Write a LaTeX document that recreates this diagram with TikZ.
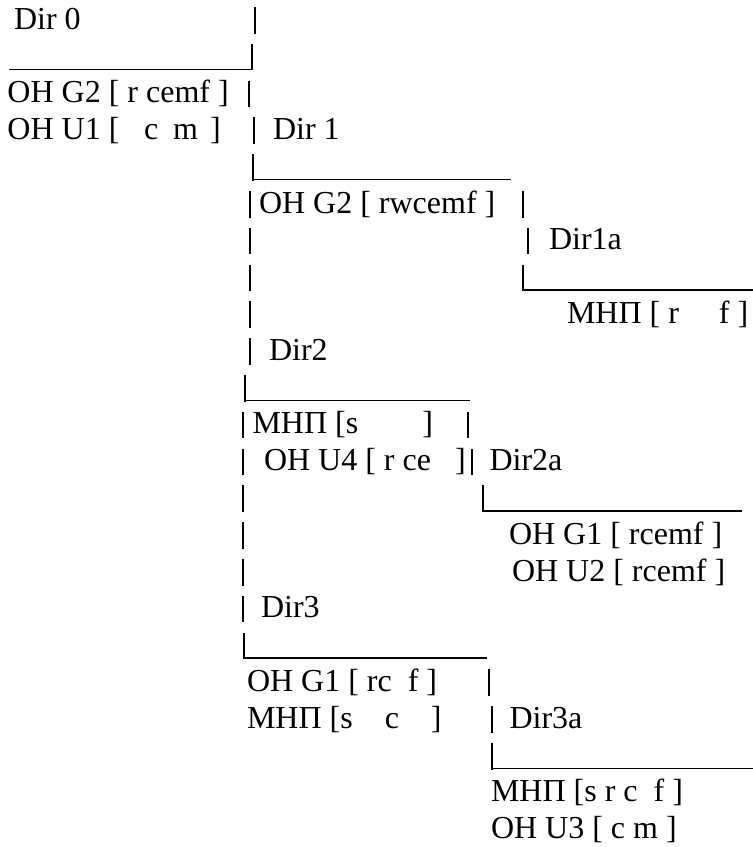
\documentclass[tikz,border=0pt]{standalone}
\usepackage{fontspec}
\setmainfont{Liberation Serif}
\tikzset{
  lbl/.style={anchor=base west, inner sep=0pt, outer sep=0pt, font=\fontsize{32}{36.8}\selectfont},
  vbar/.style={line width=1.2pt, black},
  uline/.style={line width=1.4pt, black},
}
\newcommand\vb[2]{\draw[vbar] ({#1},{#2-22}) -- ({#1},{#2+4.5});}
\newcommand\ul[3]{\draw[uline] ({#1},{#3+3.5}) -- ({#2},{#3+3.5});}
\begin{document}
\begin{tikzpicture}[x=1pt,y=-1pt]
\useasboundingbox (0,0) rectangle (753,847);
% text
\node[lbl] (t0) at (14,29) {Dir 0};
\node[lbl] (t2) at (7.5,102.6) {OH G2 [ r cemf ]};
\node[lbl] (t3) at (7.5,139.4) {OH U1 [};
\node[lbl] (t3c) at (144,139.4) {c};
\node[lbl] (t3m) at (173,139.4) {m};
\node[lbl] (t3e) at (210,139.4) {]};
\node[lbl] (d1) at (273,139.4) {Dir 1};
\node[lbl] (t5) at (259,213) {OH G2 [ rwcemf ]};
\node[lbl] (d1a) at (549,249.8) {Dir1a};
\node[lbl] (t8) at (567,323.4) {МНП [ r\ \ \ \ \ f ]};
\node[lbl] (d2) at (269,360.2) {Dir2};
\node[lbl] (t11) at (252.5,433.8) {МНП [s\ \ \ \ \ \ \ \ ]};
\node[lbl] (t12) at (264,470.6) {OH U4 [ r ce\ \ \ ]};
\node[lbl] (d2a) at (489.5,470.6) {Dir2a};
\node[lbl] (t14) at (509,544.2) {OH G1 [ rcemf ]};
\node[lbl] (t15) at (512,581) {OH U2 [ rcemf ]};
\node[lbl] (d3) at (261,617.8) {Dir3};
\node[lbl] (t18) at (247,691.4) {OH G1 [ rc\ \ f\ ]};
\node[lbl] (t19) at (247,728.2) {МНП [s\ \ \ \ c\ \ \ \ ]};
\node[lbl] (d3a) at (509.5,728.2) {Dir3a};
\node[lbl] (t21) at (491,801.8) {МНП [s r c\ \ f ]};
\node[lbl] (t22) at (491,838.6) {OH U3 [ c m ]};
% vertical bars
\vb{255}{29}
\vb{252}{65.8}
\vb{249}{102.6}
\vb{254}{139.4}
\vb{253}{176.2}
\vb{250}{213} \vb{523}{213}
\vb{250}{249.8} \vb{528}{249.8}
\vb{250}{286.6} \vb{523}{286.6}
\vb{250}{323.4}
\vb{250}{360.2}
\vb{245}{397}
\vb{243}{433.8} \vb{468}{433.8}
\vb{243}{470.6} \vb{472}{470.6}
\vb{243}{507.4} \vb{483}{507.4}
\vb{243}{544.2}
\vb{243}{581}
\vb{243}{617.8}
\vb{244}{654.6}
\vb{489}{691.4}
\vb{492}{728.2}
\vb{492}{765}
% underscores
\ul{9}{251}{65.8}
\ul{253}{511}{176.2}
\ul{523}{753}{286.6}
\ul{245}{470}{397}
\ul{483}{742}{507.4}
\ul{244}{487}{654.6}
\ul{492}{753}{765}
\end{tikzpicture}
\end{document}
